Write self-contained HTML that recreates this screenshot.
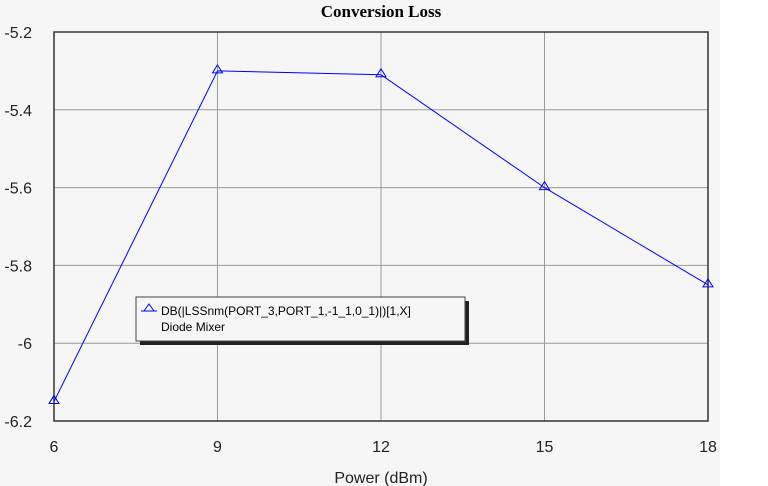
<!DOCTYPE html>
<html><head><meta charset="utf-8"><style>
body{margin:0;background:#fff}
svg{display:block}
</style></head><body>
<svg width="768" height="486" xmlns="http://www.w3.org/2000/svg">
<rect x="0" y="0" width="720" height="486" fill="#f6f6f6"/>
<text x="381" y="17" text-anchor="middle" font-family="Liberation Serif, serif" font-weight="bold" font-size="17" fill="#000">Conversion Loss</text>
<g id="grid"></g>
<rect x="54" y="32" width="654" height="389" fill="none" stroke="#333" stroke-width="1.5"/>
<g id="ticks" font-family="Liberation Sans, sans-serif" font-size="16" fill="#222"></g>
<text x="381" y="483" text-anchor="middle" font-family="Liberation Sans, sans-serif" font-size="16" fill="#222">Power (dBm)</text>
<g id="series"></g>
<g>
<rect x="140" y="301" width="329" height="44" fill="#222"/>
<rect x="136" y="297" width="329" height="44" fill="#f6f6f6" stroke="#444"/>
<line x1="141" y1="311" x2="157" y2="311" stroke="#00f"/>
<polygon points="149,304 144,311 154,311" fill="none" stroke="#00f"/>
<text x="161" y="315" font-family="Liberation Sans, sans-serif" font-size="12" fill="#000">DB(|LSSnm(PORT_3,PORT_1,-1_1,0_1)|)[1,X]</text>
<text x="161" y="331" font-family="Liberation Sans, sans-serif" font-size="12" fill="#000">Diode Mixer</text>
</g>
</svg>
<script>
const xValues=[6,9,12,15,18];
const yValues=[-6.15,-5.30,-5.31,-5.60,-5.85];
const xTicks=[6,9,12,15,18];
const yTicks=[-5.2,-5.4,-5.6,-5.8,-6,-6.2];
const NS="http://www.w3.org/2000/svg";
const X=v=>54+(v-6)/12*654;
const Y=v=>32+(-5.2-v)/1.0*389;
const grid=document.getElementById('grid'),ticks=document.getElementById('ticks'),series=document.getElementById('series');
function mk(t,a){const e=document.createElementNS(NS,t);for(const k in a)e.setAttribute(k,a[k]);return e;}
xTicks.forEach(v=>{
 const l=mk('line',{x1:X(v),x2:X(v),y1:32,y2:421,stroke:'#999'});
 
 
 grid.appendChild(l);
 const t=mk('text',{x:X(v),y:452,'text-anchor':'middle'});t.textContent=v;
 
 
 ticks.appendChild(t);
});
yTicks.forEach(v=>{
 const l=mk('line',{x1:54,x2:708,y1:Y(v),y2:Y(v),stroke:'#999'});
 
 
 grid.appendChild(l);
 const t=mk('text',{x:32,y:Y(v)+6,'text-anchor':'end'});t.textContent=v;
 
 
 ticks.appendChild(t);
});
const pl=mk('polyline',{points:xValues.map((x,i)=>X(x)+','+Y(yValues[i])).join(' '),fill:'none',stroke:'#00f','stroke-width':1});


series.appendChild(pl);
xValues.forEach((x,i)=>{
 const cx=X(x),cy=Y(yValues[i]);
 const p=mk('polygon',{points:`${cx},${cy-6} ${cx-5},${cy+2} ${cx+5},${cy+2}`,fill:'none',stroke:'#00f'});
 
 
 series.appendChild(p);
});
</script>
</body></html>
